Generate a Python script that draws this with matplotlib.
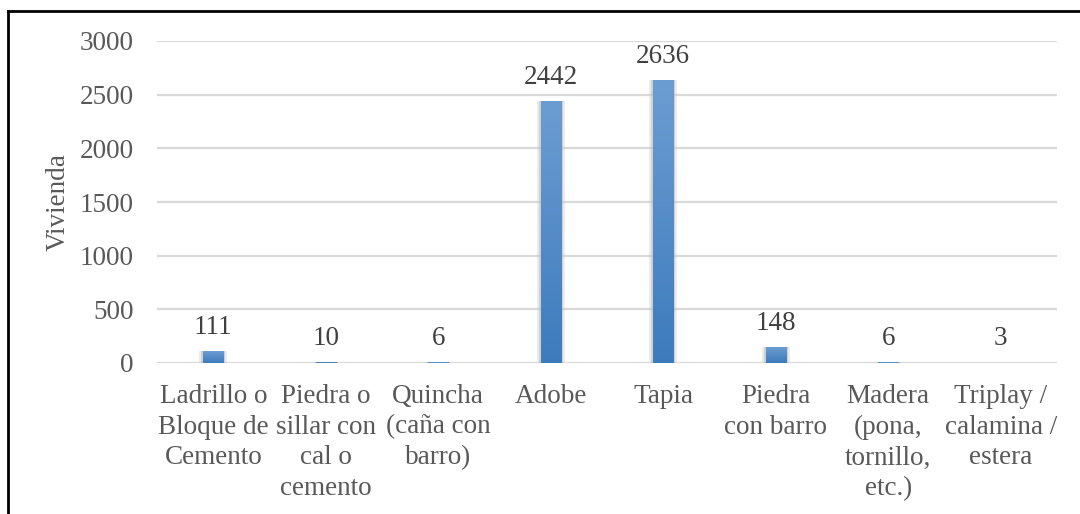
import numpy as np
import matplotlib.pyplot as plt
from matplotlib.lines import Line2D
from matplotlib.colors import LinearSegmentedColormap

categorias = ["Ladrillo o\nBloque de\nCemento", "Piedra o\nsillar con\ncal o\ncemento",
              "Quincha\n(caña con\nbarro)", "Adobe", "Tapia", "Piedra\ncon barro",
              "Madera\n(pona,\ntornillo,\netc.)", "Triplay /\ncalamina /\nestera"]
viviendas = [111, 10, 6, 2442, 2636, 148, 6, 3]
y_ticks = [0, 500, 1000, 1500, 2000, 2500, 3000]

plt.rcParams['font.family'] = ['Liberation Serif', 'DejaVu Serif']

fig = plt.figure(figsize=(10.8, 5.14), dpi=100)
ax = fig.add_axes([157 / 1080, 1 - 363 / 514, 900 / 1080, 322 / 514])

x = np.arange(len(categorias))
ancho = 0.18

# sombra suave detras de las barras
ax.bar(x, viviendas, width=ancho + 0.07, color="#c8c8c8", alpha=0.35, zorder=2)
ax.bar(x, viviendas, width=ancho + 0.035, color="#b0b0b0", alpha=0.45, zorder=2)
barras = ax.bar(x, viviendas, width=ancho, color="#4a86c6", zorder=3)

# degradado vertical en cada barra
grad = np.linspace(0, 1, 256).reshape(-1, 1)
cmap = LinearSegmentedColormap.from_list("azul", ["#3d7bbd", "#6c9dd2"])
for b in barras:
    bx, by = b.get_x(), b.get_y()
    w, h = b.get_width(), b.get_height()
    im = ax.imshow(grad, cmap=cmap, origin="lower", aspect="auto",
                   extent=(bx, bx + w, by, by + h), zorder=4)
    im.set_clip_path(b)

for xi, v in zip(x, viviendas):
    ax.text(xi, v + 105, str(v), ha="center", va="bottom", fontsize=19.5,
            color="#404040", zorder=5)

ax.set_xlim(-0.5, len(categorias) - 0.5)
ax.set_ylim(0, 3000)
ax.set_yticks(y_ticks)
ax.set_xticks(x)
ax.set_xticklabels(categorias, fontsize=19.5, color="#595959", linespacing=1.3)
ax.tick_params(axis="y", labelsize=19.5, labelcolor="#595959", length=0, pad=17)
ax.tick_params(axis="x", length=0, pad=15)
ax.yaxis.grid(True, color="#d9d9d9", linewidth=1.6, zorder=0)
ax.set_axisbelow(True)
for s in ax.spines.values():
    s.set_visible(False)
ax.set_ylabel("Vivienda", fontsize=19.5, color="#595959", labelpad=6)

# marco negro del grafico
fig.add_artist(Line2D([8 / 1080, 8 / 1080], [0, 1 - 11 / 514], color="black",
                      linewidth=2, transform=fig.transFigure))
fig.add_artist(Line2D([8 / 1080, 1], [1 - 11 / 514, 1 - 11 / 514], color="black",
                      linewidth=2, transform=fig.transFigure))

fig.savefig("out.png", dpi=100)
